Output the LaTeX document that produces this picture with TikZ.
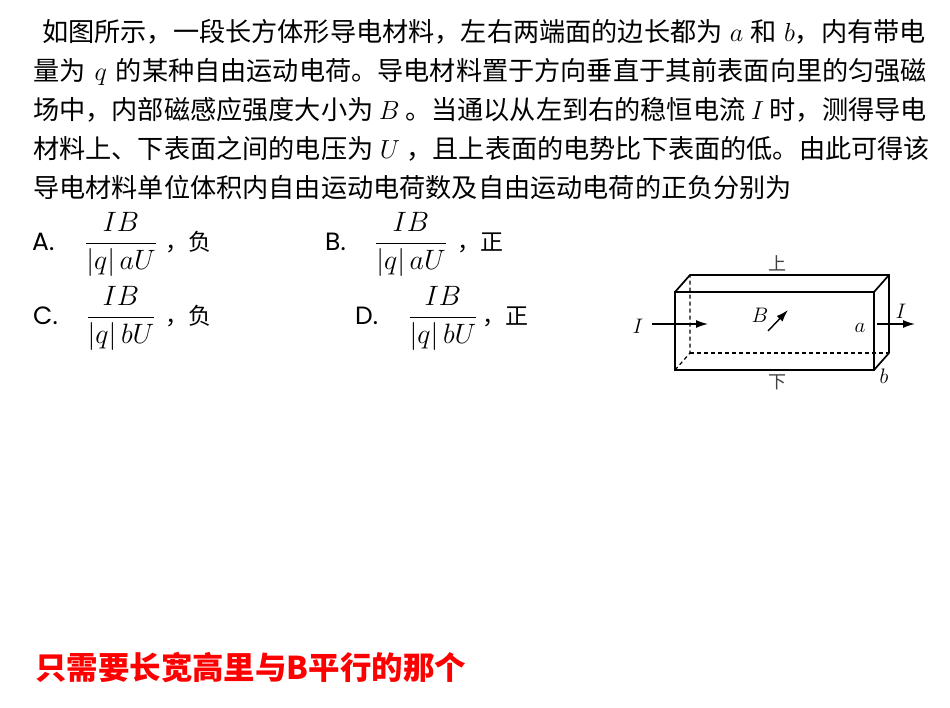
\RequirePackage{fix-cm}
\documentclass[tikz,border=0pt]{standalone}
\usepackage{fontspec}
\newfontfamily\cjk{Noto Sans CJK SC}
\newfontfamily\optfont{Poppins}
\usetikzlibrary{arrows.meta}
\usetikzlibrary{calc}
\tikzstyle{textline}=[anchor=base west,inner sep=0pt,font=\cjk\fontsize{26.17}{30}\selectfont]
\tikzstyle{optletter}=[anchor=base west,inner sep=0pt,font=\optfont\fontsize{25}{28}\selectfont]
\tikzstyle{optfrac}=[anchor=base,inner sep=0pt,font=\fontsize{28}{32}\selectfont]
\tikzstyle{optsign}=[anchor=base west,inner sep=0pt,font=\cjk\fontsize{23}{26}\selectfont]
\tikzstyle{boxedge}=[draw,line width=1.7pt]
\tikzstyle{hidden}=[draw,line width=1.2pt,dash pattern=on 4pt off 3pt]
\tikzstyle{current}=[draw,line width=1.4pt,-{Latex[length=12pt,width=8pt]}]
\tikzstyle{facelabel}=[inner sep=0pt,text=black!75,font=\cjk\fontsize{18}{20}\selectfont]
\tikzstyle{quantity}=[inner sep=0pt,font=\fontsize{21}{24}\selectfont]
\tikzstyle{remark}=[anchor=base west,inner sep=0pt,text=red,font=\cjk\bfseries\fontsize{31.45}{34}\selectfont]

\begin{document}
\begin{tikzpicture}[x=1pt,y=-1pt]

    \useasboundingbox (0,0) rectangle (950,707);

    % question text
    \foreach \pos/ \name / \label in {{(42,41)/line1/{如图所示，一段长方体形导电材料，左右两端面的边长都为\;$a$\;和\;$b$，内有带电}},
            {(33,80)/line2/{量为\hspace{9pt}$q$\hspace{9pt}的某种自由运动电荷。导电材料置于方向垂直于其前表面向里的匀强磁}},
            {(33,119)/line3/{场中，内部磁感应强度大小为\hspace{5.5pt}$B$\hspace{5.5pt}。当通以从左到右的稳恒电流\hspace{5.5pt}$I$\hspace{5.5pt}时，测得导电}},
            {(33,158)/line4/{材料上、下表面之间的电压为\hspace{6.5pt}$U$\hspace{6.5pt}，且上表面的电势比下表面的低。由此可得该}},
            {(33,197)/line5/{导电材料单位体积内自由运动电荷数及自由运动电荷的正负分别为}}}
        \node[textline] (\name) at \pos {\label};

    % choices
    \foreach \pos/ \name / \label in {{(32,250)/optA/A.}, {(325,250)/optB/B.}, {(33,324)/optC/C.}, {(355,324)/optD/D.}}
        \node[optletter] (\name) at \pos {\label};
    \foreach \pos/ \name / \label in {{(121,250)/fracA/a}, {(411,250)/fracB/a}, {(121,324)/fracC/b}, {(443,324)/fracD/b}}
        \node[optfrac] (\name) at \pos {$\displaystyle\frac{IB}{|q|\,\label U}$};
    \foreach \pos/ \name / \label in {{(165,250)/signA/，负}, {(457,250)/signB/，正}, {(165,324)/signC/，负}, {(482,324)/signD/，正}}
        \node[optsign] (\name) at \pos {\label};

    % the block
    \coordinate (fA) at (675,292);
    \coordinate (fB) at (874,292);
    \coordinate (fC) at (874,370);
    \coordinate (fD) at (675,370);
    \coordinate (bA) at (690,275);
    \coordinate (bB) at (889,275);
    \coordinate (bC) at (889,353);
    \coordinate (bD) at (690,353);

    \draw[hidden] (fD) -- (bD) -- (bA);
    \draw[hidden] (bD) -- (bC);
    \draw[boxedge] (fA) rectangle (fC);
    \draw[boxedge] (fA) -- (bA) -- (bB) -- (bC) -- (fC);
    \draw[boxedge] (fB) -- (bB);

    \node[facelabel] (top) at (777,263) {上};
    \node[facelabel] (bottom) at (777,382) {下};

    % current and field
    \coordinate (inL) at (652,324);
    \coordinate (inR) at (708,324);
    \coordinate (outL) at (877,324);
    \coordinate (outR) at (915,324);
    \coordinate (Btail) at (768,331);
    \coordinate (Bhead) at (788,310);
    \foreach \source/ \dest in {inL/inR, outL/outR, Btail/Bhead}
        \draw[current] (\source) -- (\dest);

    \foreach \pos/ \name / \label in {{(638,326)/Iin/I}, {(901,311)/Iout/I}, {(760,315)/Bfield/B}, {(860,328)/sidea/a}, {(884,376)/sideb/b}}
        \node[quantity] (\name) at \pos {$\label$};

    \node[remark] (hint) at (35,679) {只需要长宽高里与B平行的那个};
\end{tikzpicture}
\end{document}
